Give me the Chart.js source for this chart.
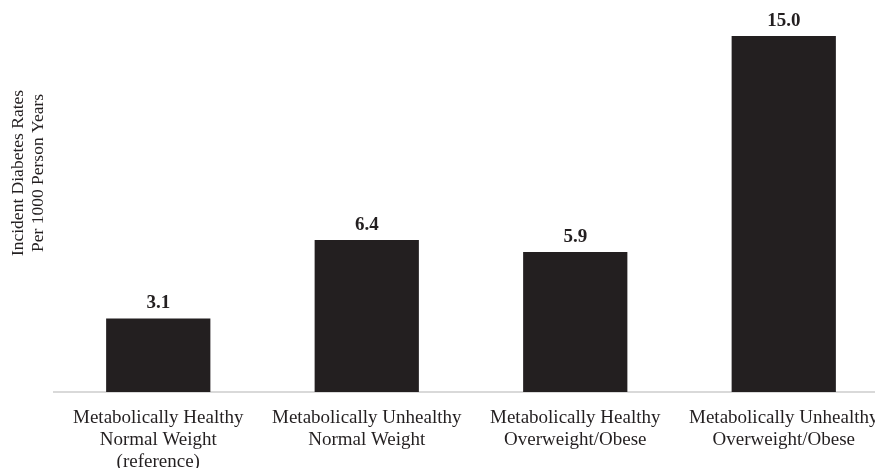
<!DOCTYPE html>
<html>
<head>
<meta charset="utf-8">
<script src="https://cdn.jsdelivr.net/npm/chart.js@4"></script>
<style>
    html, body { margin: 0; padding: 0; background: #fff; overflow: hidden; }
    #wrap { width: 888px; height: 468px; }
</style>
</head>
<body>
<div id="wrap"><canvas id="chart"></canvas></div>
<script>
// Incident diabetes rates by metabolic / weight group
const categories = [
    ['Metabolically Healthy', 'Normal Weight', '(reference)'],
    ['Metabolically Unhealthy', 'Normal Weight'],
    ['Metabolically Healthy', 'Overweight/Obese'],
    ['Metabolically Unhealthy', 'Overweight/Obese']
];
const rates = [3.1, 6.4, 5.9, 15.0];
const yTitle = ['Incident Diabetes Rates', 'Per 1000 Person Years'];

const ink = '#231f20';
const serif = '"Liberation Serif", "Times New Roman", serif';

// value labels above each bar
const valueLabels = {
    id: 'valueLabels',
    afterDatasetsDraw(chart) {
        const ctx = chart.ctx;
        const meta = chart.getDatasetMeta(0);
        ctx.save();
        ctx.fillStyle = ink;
        ctx.font = 'bold 19px ' + serif;
        ctx.textAlign = 'center';
        ctx.textBaseline = 'alphabetic';
        meta.data.forEach((bar, i) => {
            ctx.fillText(rates[i].toFixed(1), bar.x, bar.y - 10);
        });
        ctx.restore();
    }
};

// rotated two-line y axis title
const sideTitle = {
    id: 'sideTitle',
    afterDraw(chart) {
        const ctx = chart.ctx;
        ctx.save();
        ctx.fillStyle = ink;
        ctx.font = '17.5px ' + serif;
        ctx.textAlign = 'center';
        ctx.textBaseline = 'middle';
        ctx.translate(18, 173);
        ctx.rotate(-Math.PI / 2);
        ctx.fillText(yTitle[0], 0, 0);
        ctx.fillText(yTitle[1], 0, 20);
        ctx.restore();
    }
};

new Chart(document.getElementById('chart'), {
    type: 'bar',
    data: {
        labels: categories,
        datasets: [{
            data: rates,
            backgroundColor: ink,
            borderWidth: 0,
            categoryPercentage: 0.5,
            barPercentage: 1
        }]
    },
    options: {
        responsive: true,
        maintainAspectRatio: false,
        animation: false,
        layout: { padding: { top: 36, left: 0, right: 0, bottom: 0 } },
        plugins: {
            legend: { display: false },
            tooltip: { enabled: false }
        },
        scales: {
            x: {
                grid: { display: false },
                border: { color: '#d9d9d9', width: 2 },
                ticks: {
                    color: ink,
                    font: { family: serif, size: 19, lineHeight: 1.16 },
                    padding: 7,
                    maxRotation: 0,
                    autoSkip: false
                },
                afterFit(scale) { scale.height = 76; }
            },
            y: {
                min: 0,
                max: 15,
                display: true,
                grid: { display: false },
                border: { display: false },
                ticks: { display: false },
                afterFit(scale) { scale.width = 54; }
            }
        }
    },
    plugins: [valueLabels, sideTitle]
});
</script>
</body>
</html>
